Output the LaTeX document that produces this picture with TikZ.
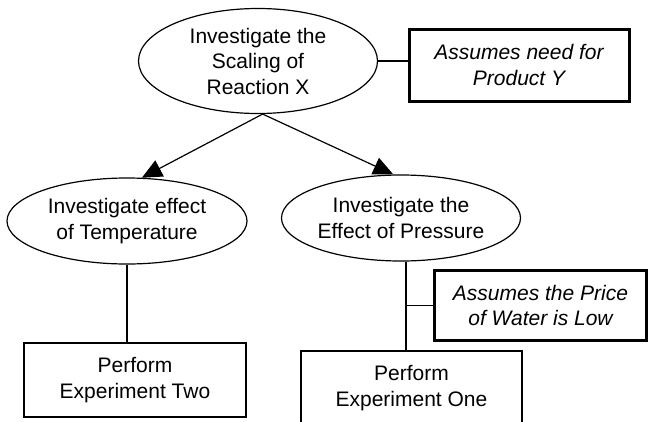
\documentclass[tikz,border=0pt]{standalone}
\usepackage{fontspec}
\setmainfont{Liberation Sans}
\usepackage{tikz}
\usetikzlibrary{shapes.geometric, arrows.meta, positioning, calc}

\begin{document}
\begin{tikzpicture}[x=1pt, y=-1pt, line width=1.2pt,
    font=\fontsize{21}{25.5}\selectfont,
    goal/.style={ellipse, draw, align=center, inner sep=0pt},
    task/.style={rectangle, draw, align=center, inner sep=0pt, minimum width=222pt, minimum height=74pt},
    assume/.style={rectangle, draw, line width=3pt, align=center, inner sep=0pt, font=\fontsize{21}{25.5}\selectfont\itshape},
    link/.style={-{Triangle[length=20pt, width=18pt]}}]
\useasboundingbox (0,0) rectangle (650,421);
% Draw the goals
\node[goal, minimum width=239pt, minimum height=105pt] (scaling) at (258,61) {Investigate the\\Scaling of\\Reaction X};
\node[goal, minimum width=240pt, minimum height=86pt] (temp) at (127,221) {Investigate effect\\of Temperature};
\node[goal, minimum width=239pt, minimum height=86pt] (press) at (401,218) {Investigate the\\Effect of Pressure};
% Draw the experiments
\node[task] (exptwo) at (135,380) {Perform\\Experiment Two};
\node[task, minimum width=221pt] (expone) at (411.5,388) {Perform\\Experiment One};
% Draw the assumptions
\node[assume, minimum width=220pt, minimum height=72pt] (need) at (519,65) {Assumes need for\\Product Y};
\node[assume, minimum width=212pt, minimum height=70pt] (water) at (540.5,305.5) {Assumes the Price\\of Water is Low};
% Connect them
\draw (scaling.east) -- (scaling.east -| need.west);
\draw[link] (scaling.275) -- (temp.71.6);
\draw[link] (scaling.275) -- (press.100.5);
\draw (temp.south) -- (temp.south |- exptwo.north);
\coordinate (split) at ([xshift=5pt]press.south);
\draw (split) -- (split |- expone.north);
\draw (split |- water.west) -- (water.west);
\end{tikzpicture}
\end{document}
